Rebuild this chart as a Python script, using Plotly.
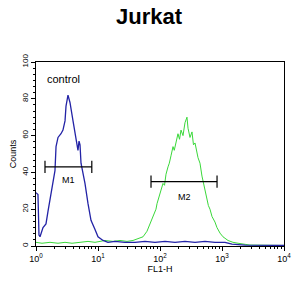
import plotly.graph_objects as go

# Control (blue) histogram: log10(FL1-H) positions and counts
blue_log = [0.000, 0.032, 0.048, 0.065, 0.113, 0.161, 0.194, 0.242, 0.306, 0.323, 0.355,
            0.403, 0.435, 0.468, 0.484, 0.516, 0.548, 0.597, 0.645, 0.677, 0.694, 0.710,
            0.726, 0.790, 0.839, 0.887, 0.952, 1.000, 1.081, 1.161, 1.274, 1.435, 1.597,
            1.758, 1.919, 2.081, 2.242, 2.403, 2.565, 2.726, 2.887, 3.048, 3.161, 3.371, 4.000]
blue_cnt = [29, 28, 6, 5, 10, 12, 19, 29, 41, 54, 59,
            61, 63, 68, 76, 82, 78, 68, 58, 52, 57, 55,
            45, 34, 23, 14, 9, 5, 3, 2, 2.5, 2, 2,
            2.5, 2, 2.5, 2, 2.5, 2, 2.5, 2, 2, 1, 0.5, 0.3]

# Sample (green) histogram
green_log = [0.000, 0.097, 0.226, 0.355, 0.468, 0.581, 0.710, 0.839, 0.952, 1.113, 1.242,
             1.355, 1.468, 1.565, 1.645, 1.726, 1.790, 1.839, 1.870, 1.903, 1.935, 1.952,
             2.000, 2.024, 2.048, 2.073, 2.097, 2.129, 2.150, 2.177, 2.210, 2.230, 2.258,
             2.290, 2.315, 2.339, 2.371, 2.403, 2.435, 2.452, 2.484, 2.516, 2.540, 2.565,
             2.613, 2.645, 2.677, 2.726, 2.758, 2.780, 2.806, 2.839, 2.887, 2.919, 2.968,
             3.016, 3.097, 3.177, 3.258, 3.339, 3.452, 4.000]
green_cnt = [2, 1.5, 2, 1.5, 2, 1.5, 2, 2.5, 2, 3, 2.5,
             3, 2.5, 3, 4, 5, 8, 12, 14, 17, 20, 23,
             28, 31, 34, 33, 39, 43, 45, 49, 54, 52, 57,
             61, 58, 63, 60, 67, 70, 64, 59, 62, 55, 56,
             48, 45, 38, 30, 25, 22, 20, 16, 13, 10, 7,
             5, 3, 2, 1.5, 1, 0.5, 0.3]

# Marker gates (log10 start, log10 end, level)
gate_names = ["M1", "M2"]
gate_start = [0.145, 1.855]
gate_end = [0.90, 2.92]
gate_level = [43, 35]
gate_label_y = [36, 26.6]

x_tick_vals = [1, 10, 100, 1000, 10000]
x_tick_text = ["10<sup>0</sup>", "10<sup>1</sup>", "10<sup>2</sup>", "10<sup>3</sup>", "10<sup>4</sup>"]
y_tick_vals = [0, 20, 40, 60, 80, 100]

fig = go.Figure()
fig.add_trace(go.Scatter(x=[10 ** v for v in green_log], y=green_cnt, mode="lines",
                         line=dict(color="#3ad83a", width=1), showlegend=False))
fig.add_trace(go.Scatter(x=[10 ** v for v in blue_log], y=blue_cnt, mode="lines",
                         line=dict(color="#2323a6", width=1.3), showlegend=False))

cap = 3.3
for name, s, e, lv, ly in zip(gate_names, gate_start, gate_end, gate_level, gate_label_y):
    xs, xe = 10 ** s, 10 ** e
    fig.add_trace(go.Scatter(x=[xs, xe, None, xs, xs, None, xe, xe],
                             y=[lv, lv, None, lv - cap, lv + cap, None, lv - cap, lv + cap],
                             mode="lines", line=dict(color="black", width=1.2), showlegend=False))
    fig.add_annotation(x=(s + e) / 2, y=ly, text=name, showarrow=False,
                       font=dict(size=9, color="black", family="Liberation Sans"))

fig.add_annotation(x=0.15, y=91, text="control", showarrow=False, xanchor="left",
                   font=dict(size=11, color="black", family="Liberation Sans"))

minor_x = [k * 10 ** d for d in range(4) for k in range(2, 10)]

fig.update_layout(
    width=305, height=296,
    margin=dict(l=36, r=21, t=62, b=50),
    paper_bgcolor="white", plot_bgcolor="white",
    font=dict(family="Liberation Sans", color="black", size=9),
    title=dict(text="<b>Jurkat</b>", x=149 / 305, xanchor="center", y=1 - 16 / 296,
               yanchor="middle", font=dict(size=22, family="Liberation Sans", color="black")),
    xaxis=dict(type="log", range=[0, 4], tickvals=x_tick_vals, ticktext=x_tick_text,
               showline=True, linecolor="black", linewidth=1, mirror=True,
               ticks="outside", ticklen=4, tickcolor="black", showgrid=False, zeroline=False,
               minor=dict(tickvals=minor_x, ticks="outside", ticklen=2, tickcolor="black"),
               title=dict(text="FL1-H", font=dict(size=9), standoff=2),
               tickfont=dict(size=9)),
    yaxis=dict(range=[0, 100], tickvals=y_tick_vals, tickangle=-90,
               showline=True, linecolor="black", linewidth=1, mirror=True,
               ticks="outside", ticklen=4, tickcolor="black", showgrid=False, zeroline=False,
               minor=dict(dtick=20 / 6, tick0=0, ticks="outside", ticklen=2, tickcolor="black"),
               title=dict(text="Counts", font=dict(size=9), standoff=2),
               tickfont=dict(size=8)),
)

fig.write_html("out.html")
